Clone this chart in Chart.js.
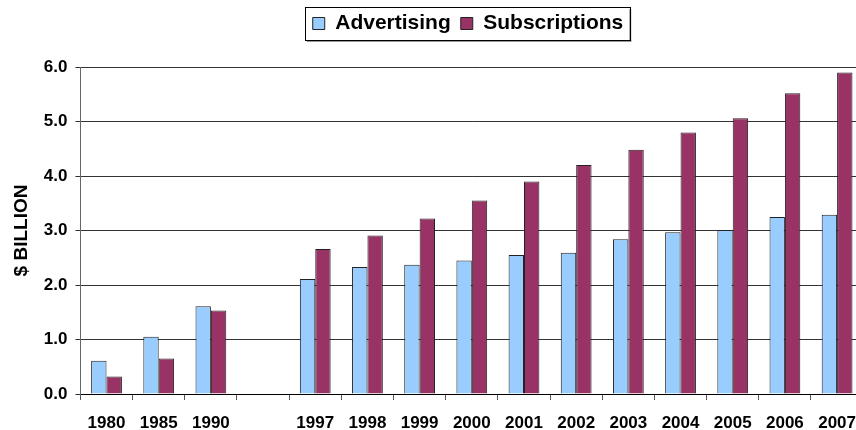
<!DOCTYPE html>
<html>
<head>
<meta charset="utf-8">
<script src="https://cdn.jsdelivr.net/npm/chart.js@4/dist/chart.umd.min.js"></script>
<style>
  html, body { margin: 0; padding: 0; background: #fff; overflow: hidden; }
  canvas { display: block; }
</style>
</head>
<body>
<canvas id="revenueChart" width="871" height="430"></canvas>
<script>
// Revenue by source, $ billion (the blank slot separates 1990 from 1997)
const years = ['1980', '1985', '1990', '', '1997', '1998', '1999', '2000', '2001', '2002', '2003', '2004', '2005', '2006', '2007'];
const advertising = [0.61, 1.05, 1.61, null, 2.11, 2.33, 2.37, 2.45, 2.55, 2.59, 2.84, 2.97, 3.01, 3.25, 3.29];
const subscriptions = [0.32, 0.65, 1.53, null, 2.66, 2.91, 3.22, 3.55, 3.90, 4.20, 4.48, 4.80, 5.06, 5.52, 5.90];

const font = 'Arial, "Liberation Sans", sans-serif';

// extra room under the legend, and centre it over the plot rather than the canvas
const legendGap = {
  id: 'legendGap',
  beforeInit(chart) {
    const fit = chart.legend.fit;
    chart.legend.fit = function() {
      fit.bind(chart.legend)();
      this.height += 23;
    };
  },
  afterLayout(chart) {
    chart.legend.left = 65;
  }
};

// framed legend with a soft drop shadow
const legendFrame = {
  id: 'legendFrame',
  afterDraw(chart) {
    const boxes = chart.legend.legendHitBoxes;
    if (!boxes || !boxes.length) return;
    const left = Math.min(...boxes.map(b => b.left)) - 8;
    const right = Math.max(...boxes.map(b => b.left + b.width)) + 6;
    const top = boxes[0].top - 6;
    const bottom = boxes[0].top + boxes[0].height + 6;
    const ctx = chart.ctx;
    ctx.save();
    ctx.fillStyle = '#999';
    ctx.fillRect(left + 2, bottom, right - left, 2);
    ctx.fillRect(right, top + 2, 2, bottom - top);
    ctx.strokeStyle = '#000';
    ctx.lineWidth = 1;
    ctx.strokeRect(Math.round(left) + 0.5, Math.round(top) + 0.5, Math.round(right - left), Math.round(bottom - top));
    ctx.restore();
  }
};

new Chart(document.getElementById('revenueChart').getContext('2d'), {
  type: 'bar',
  data: {
    labels: years,
    datasets: [{
      label: 'Advertising',
      data: advertising,
      backgroundColor: '#99CCFF',
      borderColor: '#222',
      borderWidth: 1
    }, {
      label: 'Subscriptions',
      data: subscriptions,
      backgroundColor: '#993366',
      borderColor: '#222',
      borderWidth: 1
    }]
  },
  options: {
    responsive: false,
    animation: false,
    layout: { padding: { top: 3, left: 10, right: 0, bottom: 0 } },
    datasets: {
      bar: { categoryPercentage: 0.59, barPercentage: 1.0 }
    },
    plugins: {
      legend: {
        position: 'top',
        labels: {
          color: '#000',
          font: { family: font, size: 21, weight: 'bold' },
          boxWidth: 12,
          boxHeight: 12,
          padding: 10
        }
      },
      tooltip: { enabled: false }
    },
    scales: {
      x: {
        afterFit(scale) { scale.height = 36; },
        grid: {
          offset: true,
          drawOnChartArea: false,
          drawTicks: true,
          tickLength: 6,
          color: '#555'
        },
        border: { color: '#000' },
        ticks: {
          color: '#000',
          font: { family: font, size: 17, weight: 'bold', lineHeight: 1 },
          padding: 15,
          maxRotation: 0,
          autoSkip: false
        }
      },
      y: {
        min: 0,
        max: 6,
        grid: {
          color: '#333',
          tickLength: 5
        },
        border: { color: '#666' },
        ticks: {
          stepSize: 1,
          color: '#000',
          padding: 8,
          font: { family: font, size: 17, weight: 'bold' },
          callback: v => v.toFixed(1)
        },
        title: {
          display: true,
          text: '$ BILLION',
          color: '#000',
          font: { family: font, size: 19, weight: 'bold' },
          padding: { top: 0, bottom: 3 }
        }
      }
    }
  },
  plugins: [legendGap, legendFrame]
});
</script>
</body>
</html>
